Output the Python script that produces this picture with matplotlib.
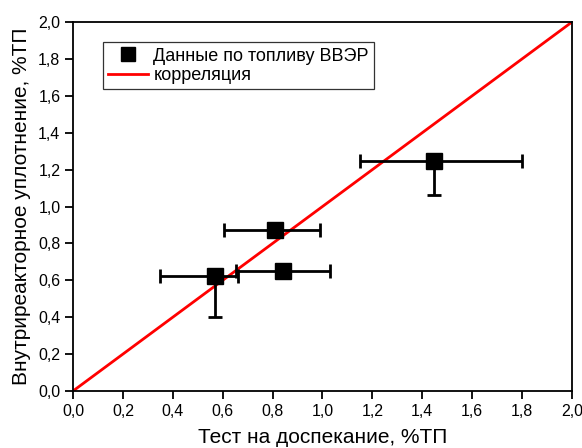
import matplotlib.pyplot as plt
from matplotlib.ticker import FuncFormatter

plt.rcParams['font.family'] = ['Liberation Sans', 'DejaVu Sans']

# data points (test vs in-reactor densification)
x = [0.57, 0.84, 0.81, 1.445]
y = [0.625, 0.65, 0.87, 1.245]
x_lo = [0.35, 0.655, 0.605, 1.15]
x_hi = [0.66, 1.03, 0.99, 1.80]
y_lo = [0.40, 0.65, 0.87, 1.06]

# correlation line
corr_x = [0.0, 2.0]
corr_y = [0.0, 2.0]

xerr = [[a - b for a, b in zip(x, x_lo)], [b - a for a, b in zip(x, x_hi)]]
yerr = [[a - b for a, b in zip(y, y_lo)], [0] * len(y)]

fig = plt.figure(figsize=(5.82, 4.48), dpi=100)
ax = fig.add_axes([0.1254, 0.1272, 0.8574, 0.8237])

ax.plot(corr_x, corr_y, color='#ff0000', lw=2.0, label='корреляция', zorder=2)
ax.errorbar(x, y, xerr=xerr, yerr=yerr, fmt='none', ecolor='black',
            elinewidth=2.0, capsize=5, capthick=2.0, zorder=3)
ax.plot(x, y, 's', color='black', ms=11.5, label='Данные по топливу ВВЭР', zorder=4)

ax.set_xlim(0, 2)
ax.set_ylim(0, 2)
ticks = [0, 0.2, 0.4, 0.6, 0.8, 1.0, 1.2, 1.4, 1.6, 1.8, 2.0]
ax.set_xticks(ticks)
ax.set_yticks(ticks)
fmt = FuncFormatter(lambda v, p: ('%.1f' % v).replace('.', ','))
ax.xaxis.set_major_formatter(fmt)
ax.yaxis.set_major_formatter(fmt)
ax.tick_params(direction='out', length=6, width=1.3, labelsize=11.5, pad=3)
for s in ax.spines.values():
    s.set_linewidth(1.3)

ax.set_xlabel('Тест на доспекание, %ТП', fontsize=15, labelpad=7)
ax.set_ylabel('Внутриреакторное уплотнение, %ТП', fontsize=15, labelpad=5)

handles, labels = ax.get_legend_handles_labels()
leg = ax.legend(handles[::-1], labels[::-1], loc='upper left',
                bbox_to_anchor=(0.06, 0.945), fontsize=13, frameon=True,
                fancybox=False, edgecolor='black', borderpad=0.3,
                handlelength=2.2, handletextpad=0.3, labelspacing=0.12,
                borderaxespad=0, markerscale=0.85)
leg.get_frame().set_linewidth(0.9)

fig.savefig('out.png', dpi=100)
